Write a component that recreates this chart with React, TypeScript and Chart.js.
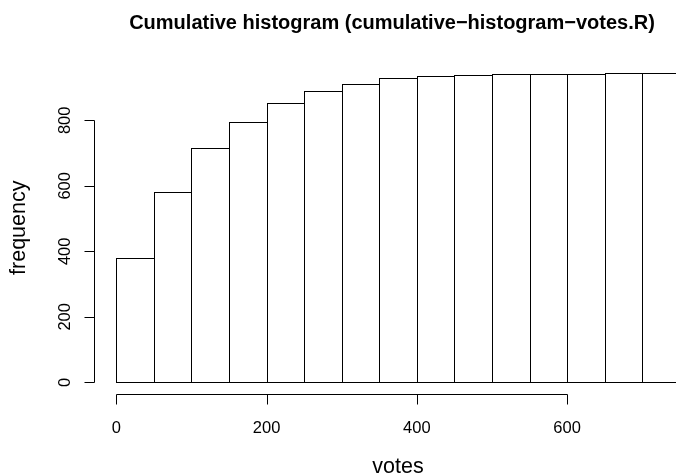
import React, { useEffect, useRef } from "react";
import { Chart, registerables } from "chart.js";

Chart.register(...registerables);

const binStarts = [0, 50, 100, 150, 200, 250, 300, 350, 400, 450, 500, 550, 600, 650, 700];
const binWidth = 50;
const cumulativeCounts = [380, 582, 717, 796, 853, 890, 910, 928, 935, 939, 941, 941, 942, 943, 944];
const xTicks = [0, 200, 400, 600];
const yTicks = [0, 200, 400, 600, 800];
const titleText = "Cumulative histogram (cumulative\u2212histogram\u2212votes.R)";
const xLabel = "votes";
const yLabel = "frequency";

const FONT = "'Liberation Sans', Arial, Helvetica, sans-serif";

export default function App() {
  const ref = useRef<HTMLCanvasElement | null>(null);

  useEffect(() => {
    const canvas = ref.current;
    if (!canvas) return;

    const points = binStarts.map((s, i) => ({ x: s + binWidth / 2, y: cumulativeCounts[i] }));
    const xMid = (binStarts[0] + binStarts[binStarts.length - 1] + binWidth) / 2;
    const yMax = Math.max(...cumulativeCounts);

    const rPlot = {
      id: "rPlot",
      afterDatasetsDraw(chart: any) {
        const ctx = chart.ctx;
        const area = chart.chartArea;
        const xs = chart.scales.x;
        const meta = chart.getDatasetMeta(0);
        ctx.save();
        ctx.beginPath();
        ctx.rect(area.left, area.top, area.right - area.left, area.bottom - area.top);
        ctx.clip();
        ctx.strokeStyle = "#000";
        ctx.lineWidth = 1;
        meta.data.forEach((el: any, i: number) => {
          const p = el.getProps(["y", "base"], true);
          const l = Math.round(xs.getPixelForValue(binStarts[i])) + 0.5;
          const r = Math.round(xs.getPixelForValue(binStarts[i] + binWidth)) + 0.5;
          const t = Math.round(p.y) + 0.5;
          const b = Math.round(p.base) + 0.5;
          ctx.strokeRect(l, t, r - l, b - t);
        });
        ctx.restore();
      },
      afterDraw(chart: any) {
        const ctx = chart.ctx;
        const area = chart.chartArea;
        const xs = chart.scales.x;
        const ys = chart.scales.y;
        ctx.save();
        ctx.strokeStyle = "#000";
        ctx.fillStyle = "#000";
        ctx.lineWidth = 1;

        // y axis
        const ax = Math.round(area.left) + 0.5;
        const yTop = Math.round(ys.getPixelForValue(yTicks[yTicks.length - 1])) + 0.5;
        const yBot = Math.round(ys.getPixelForValue(yTicks[0])) + 0.5;
        ctx.beginPath();
        ctx.moveTo(ax, yTop);
        ctx.lineTo(ax, yBot);
        yTicks.forEach((v) => {
          const py = Math.round(ys.getPixelForValue(v)) + 0.5;
          ctx.moveTo(ax - 10, py);
          ctx.lineTo(ax, py);
        });
        ctx.stroke();

        ctx.font = "16.5px " + FONT;
        ctx.textAlign = "center";
        ctx.textBaseline = "alphabetic";
        yTicks.forEach((v) => {
          const py = ys.getPixelForValue(v);
          ctx.save();
          ctx.translate(area.left - 23.5, py);
          ctx.rotate(-Math.PI / 2);
          ctx.fillText(String(v), 0, 0);
          ctx.restore();
        });

        // x axis
        const ay = Math.round(area.bottom) - 0.5;
        const xL = Math.round(xs.getPixelForValue(xTicks[0])) + 0.5;
        const xR = Math.round(xs.getPixelForValue(xTicks[xTicks.length - 1])) + 0.5;
        ctx.beginPath();
        ctx.moveTo(xL, ay);
        ctx.lineTo(xR, ay);
        xTicks.forEach((v) => {
          const px = Math.round(xs.getPixelForValue(v)) + 0.5;
          ctx.moveTo(px, ay);
          ctx.lineTo(px, ay + 10);
        });
        ctx.stroke();

        xTicks.forEach((v) => {
          ctx.fillText(String(v), xs.getPixelForValue(v), area.bottom + 38.6);
        });

        // axis titles
        ctx.font = "21.5px " + FONT;
        ctx.fillText(xLabel, xs.getPixelForValue(xMid), 473.3);
        ctx.save();
        ctx.translate(25, (area.top + area.bottom) / 2);
        ctx.rotate(-Math.PI / 2);
        ctx.fillText(yLabel, 0, 0);
        ctx.restore();

        // main title
        ctx.font = "bold 20px " + FONT;
        ctx.fillText(titleText, 392, 28.5);
        ctx.restore();
      },
    };

    const chart = new Chart(canvas, {
      type: "bar",
      data: {
        datasets: [
          {
            data: points,
            backgroundColor: "#ffffff",
            borderWidth: 0,
            barPercentage: 1,
            categoryPercentage: 1,
          },
        ],
      },
      options: {
        animation: false,
        responsive: false,
        maintainAspectRatio: false,
        devicePixelRatio: 1,
        layout: { padding: { left: 93.5, right: 0, top: 60.8, bottom: 81.3 } },
        plugins: {
          legend: { display: false },
          tooltip: { enabled: false },
          title: { display: false },
        },
        scales: {
          x: { type: "linear", display: false, offset: false, min: -30.4, max: 745 },
          y: { type: "linear", display: false, min: -0.04 * yMax, max: yMax * 1.04 },
        },
      },
      plugins: [rPlot],
    });

    return () => chart.destroy();
  }, []);

  return (
    <div style={{ position: "fixed", left: 0, top: 0, width: 676, height: 476, background: "#fff" }}>
      <canvas ref={ref} width={676} height={476} style={{ width: 676, height: 476, display: "block" }} />
    </div>
  );
}
